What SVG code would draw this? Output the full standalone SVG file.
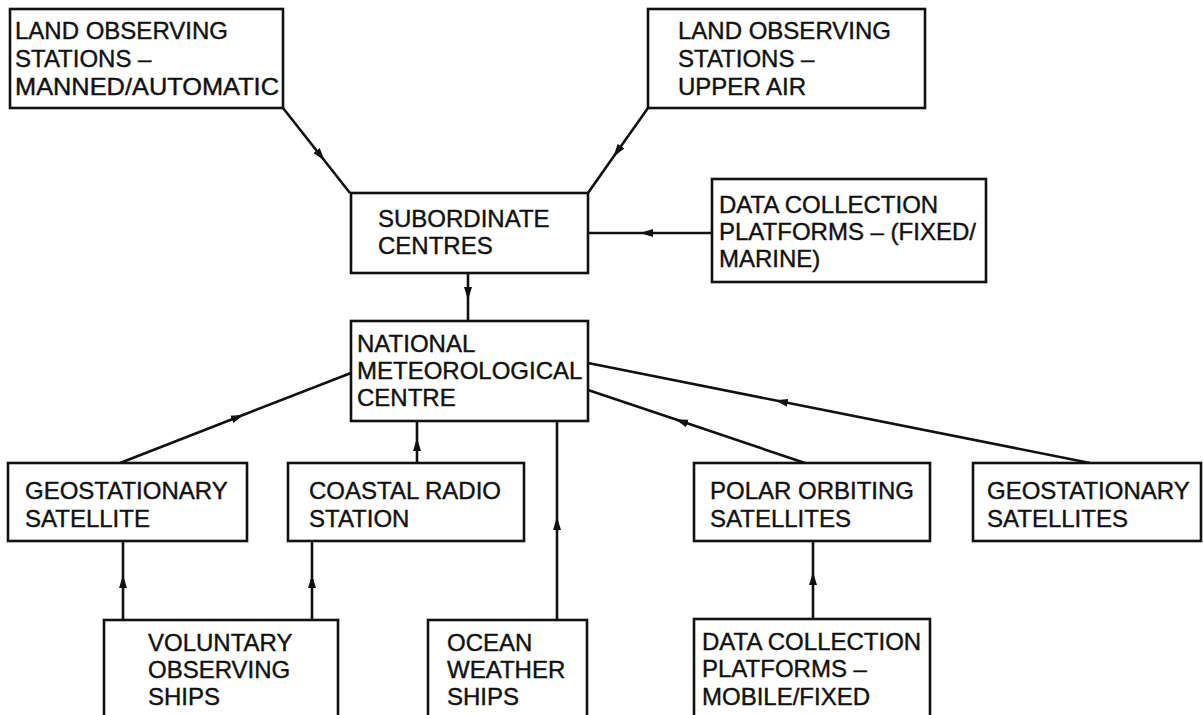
<svg xmlns="http://www.w3.org/2000/svg" width="1203" height="715" viewBox="0 0 1203 715">
<style>
.box{fill:#fff;stroke:#111;stroke-width:2.6}
.lbl{font-family:"Liberation Sans",Arial,Helvetica,sans-serif;font-size:24px;fill:#111;stroke:#111;stroke-width:0.4}
.con{fill:none;stroke:#111;stroke-width:2.6;marker-mid:url(#ah)}
</style>
<defs>
<marker id="ah" viewBox="0 0 13 9" refX="12" refY="4.5" markerWidth="13" markerHeight="9" markerUnits="userSpaceOnUse" orient="auto">
<path d="M0,0.5 L13,4.5 L0,8.5 z" fill="#111"/>
</marker>
</defs>
<rect width="1203" height="715" fill="#fff"/>
<g id="connectors">
<path class="con" d="M283,108 L324,160 L350,193"/>
<path class="con" d="M648,108 L614,156 L588,193"/>
<path class="con" d="M712,233 L641,233 L588,233"/>
<path class="con" d="M468,273 L468,299 L468,321"/>
<path class="con" d="M120,463 L243,415 L351,373"/>
<path class="con" d="M417,463 L417,439 L417,421"/>
<path class="con" d="M557,620 L557,518 L557,421"/>
<path class="con" d="M805,463 L676,419.6 L588,390"/>
<path class="con" d="M1090,463 L776,400.5 L588,363"/>
<path class="con" d="M123,620 L123,576 L123,541"/>
<path class="con" d="M312,620 L312,576 L312,541"/>
<path class="con" d="M813,619 L813,573 L813,541"/>
</g>
<g id="land-manned">
<rect class="box" x="10" y="9" width="273" height="99"/>
<text class="lbl" x="15" y="39">LAND OBSERVING</text>
<text class="lbl" x="15" y="67">STATIONS –</text>
<text class="lbl" x="15" y="95" textLength="264" lengthAdjust="spacingAndGlyphs">MANNED/AUTOMATIC</text>
</g>
<g id="land-upper">
<rect class="box" x="648" y="9" width="277" height="99"/>
<text class="lbl" x="678" y="39">LAND OBSERVING</text>
<text class="lbl" x="678" y="67">STATIONS –</text>
<text class="lbl" x="678" y="95">UPPER AIR</text>
</g>
<g id="subordinate">
<rect class="box" x="351" y="193" width="237" height="80"/>
<text class="lbl" x="378" y="227">SUBORDINATE</text>
<text class="lbl" x="378" y="254">CENTRES</text>
</g>
<g id="dcp-fixed">
<rect class="box" x="712" y="179" width="274" height="103"/>
<text class="lbl" x="719" y="213">DATA COLLECTION</text>
<text class="lbl" x="719" y="240">PLATFORMS – (FIXED/</text>
<text class="lbl" x="719" y="267">MARINE)</text>
</g>
<g id="nmc">
<rect class="box" x="351" y="321" width="237" height="100"/>
<text class="lbl" x="357" y="352">NATIONAL</text>
<text class="lbl" x="357" y="379">METEOROLOGICAL</text>
<text class="lbl" x="357" y="406">CENTRE</text>
</g>
<g id="geo-sat">
<rect class="box" x="8" y="463" width="239" height="78"/>
<text class="lbl" x="25" y="499">GEOSTATIONARY</text>
<text class="lbl" x="25" y="527">SATELLITE</text>
</g>
<g id="coastal">
<rect class="box" x="288" y="463" width="236" height="78"/>
<text class="lbl" x="309" y="499">COASTAL RADIO</text>
<text class="lbl" x="309" y="527">STATION</text>
</g>
<g id="polar">
<rect class="box" x="694" y="463" width="236" height="78"/>
<text class="lbl" x="710" y="499">POLAR ORBITING</text>
<text class="lbl" x="710" y="527">SATELLITES</text>
</g>
<g id="geo-sats">
<rect class="box" x="973" y="463" width="228" height="78"/>
<text class="lbl" x="987" y="499">GEOSTATIONARY</text>
<text class="lbl" x="987" y="527">SATELLITES</text>
</g>
<g id="vos">
<rect class="box" x="104" y="620" width="234" height="120"/>
<text class="lbl" x="148" y="651">VOLUNTARY</text>
<text class="lbl" x="148" y="678">OBSERVING</text>
<text class="lbl" x="148" y="705">SHIPS</text>
</g>
<g id="ocean">
<rect class="box" x="428" y="620" width="159" height="120"/>
<text class="lbl" x="447" y="651">OCEAN</text>
<text class="lbl" x="447" y="678">WEATHER</text>
<text class="lbl" x="447" y="705">SHIPS</text>
</g>
<g id="dcp-mobile">
<rect class="box" x="694" y="619" width="236" height="120"/>
<text class="lbl" x="702" y="650">DATA COLLECTION</text>
<text class="lbl" x="702" y="677">PLATFORMS –</text>
<text class="lbl" x="702" y="705">MOBILE/FIXED</text>
</g>
</svg>
